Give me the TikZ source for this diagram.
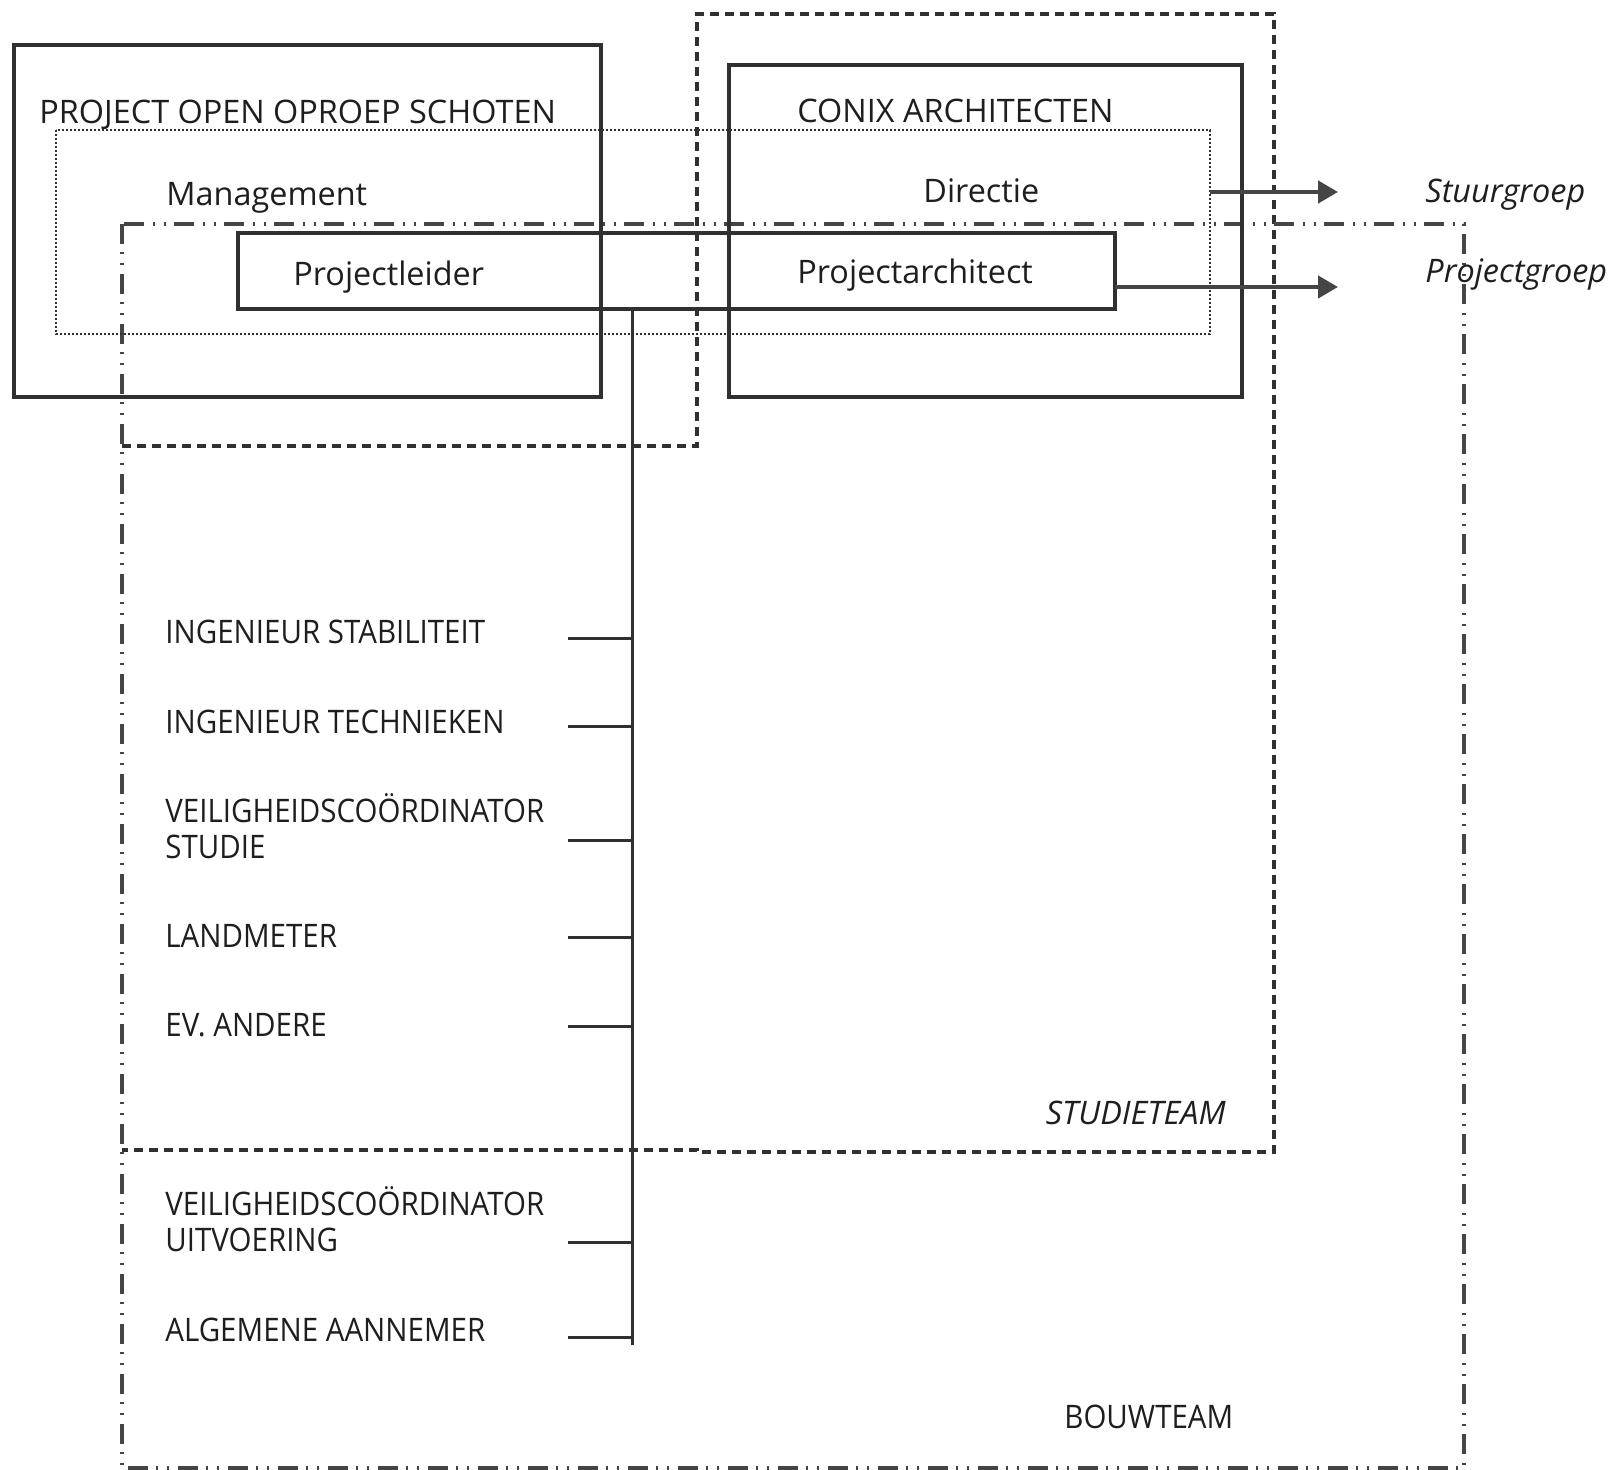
\documentclass[tikz,border=0pt]{standalone}
\usepackage{fontspec}
\setmainfont{Open Sans}[FakeStretch=1.0]
\newfontfamily\listfont{Open Sans}[FakeStretch=0.91]
\usetikzlibrary{arrows.meta}
\definecolor{linegray}{HTML}{303030}
\definecolor{arrowgray}{HTML}{454545}
\definecolor{txtgray}{HTML}{1E1E1E}

\begin{document}
\begin{tikzpicture}[x=0.5pt,y=-0.5pt,
  box/.style={draw=linegray,line width=1.6pt},
  studie/.style={draw=linegray,line width=1.6pt,dash pattern=on 4.5pt off 3pt},
  bouw/.style={draw=arrowgray,line width=1.6pt,dash pattern=on 10pt off 4pt on 1.2pt off 4.3pt on 1.2pt off 4.3pt},
  groep/.style={draw=linegray,line width=1.4pt,dash pattern=on 1.1pt off 0.9pt},
  tick/.style={draw=linegray,line width=1.5pt},
  flow/.style={draw=arrowgray,line width=2.2pt,-{Triangle[length=10pt,width=11pt]}},
  lbl/.style={inner sep=0pt,anchor=base west,align=left,text=txtgray,font=\fontsize{16.2}{18}\selectfont},
  ilbl/.style={lbl,font=\fontsize{16.2}{18}\selectfont\itshape},
  llbl/.style={lbl,font=\fontsize{16.2}{18}\selectfont\listfont}]
\useasboundingbox (0,0) rectangle (1620,1470);
\fill[white] (0,0) rectangle (1620,1470);
% Drawing teams
% Team 1: studieteam (dashed)
\draw[studie] (122,446) -- (697,446) -- (697,14) -- (1274,14) -- (1274,1152) -- (697,1152) -- (697,1150) -- (122,1150);
% Team 2: bouwteam (dash dot dot)
\draw[bouw] (122,224) rectangle (1464,1468);
% Team 3: management / directie (dotted)
\draw[groep] (56,130) rectangle (1210,334);
% Done with teams; drawing boxes
\draw[box] (14,45) rectangle (601,397);
\draw[box] (729,65) rectangle (1242,397);
\draw[box] (238,233) rectangle (1115,309);
% Done with boxes; drawing labels
\node[lbl] (poos) at (39,124) {PROJECT OPEN OPROEP SCHOTEN};
\node[lbl] (conix) at (797,123) {CONIX ARCHITECTEN};
\node[lbl] (mgmt) at (166,206) {Management};
\node[lbl] (dir) at (923,203) {Directie};
\node[lbl] (pl) at (293,286) {Projectleider};
\node[lbl] (pa) at (797,284) {Projectarchitect};
\node[ilbl] (stuur) at (1425,203) {Stuurgroep};
\node[ilbl] (pgroep) at (1425,283) {Projectgroep};
\node[llbl] (stab) at (165,643) {INGENIEUR STABILITEIT};
\node[llbl] (tech) at (165,733) {INGENIEUR TECHNIEKEN};
\node[llbl] (vcs) at (165,858) {VEILIGHEIDSCOÖRDINATOR\\STUDIE};
\node[llbl] (land) at (165,947) {LANDMETER};
\node[llbl] (ander) at (165,1036) {EV. ANDERE};
\node[ilbl,anchor=base east] (studie) at (1226,1124) {STUDIETEAM};
\node[llbl] (vcu) at (165,1251) {VEILIGHEIDSCOÖRDINATOR\\UITVOERING};
\node[llbl] (aann) at (165,1341) {ALGEMENE AANNEMER};
\node[llbl] (bouwlbl) at (1064,1428) {BOUWTEAM};
% Done with labels; drawing lines
\coordinate (trunk-top) at (632,309);
\coordinate (trunk-end) at (632,1345);
\draw[tick] (trunk-top) -- (trunk-end);
\foreach \y/\n in {638/stab,726/tech,840/vcs,937/land,1026/ander,1242/vcu,1337/aann}{
  \coordinate (t-\n) at (568,\y);
  \draw[tick] (t-\n) -- (t-\n -| trunk-top);
}
% Line: to stuurgroep and projectgroep
\coordinate (dir-out) at (1210,192);
\coordinate (stuur-tip) at (1338,192);
\coordinate (pa-out) at (1115,287);
\coordinate (pgroep-tip) at (1338,287);
\draw[flow] (dir-out) -- (stuur-tip);
\draw[flow] (pa-out) -- (pgroep-tip);
% Done with lines
\end{tikzpicture}
\end{document}
